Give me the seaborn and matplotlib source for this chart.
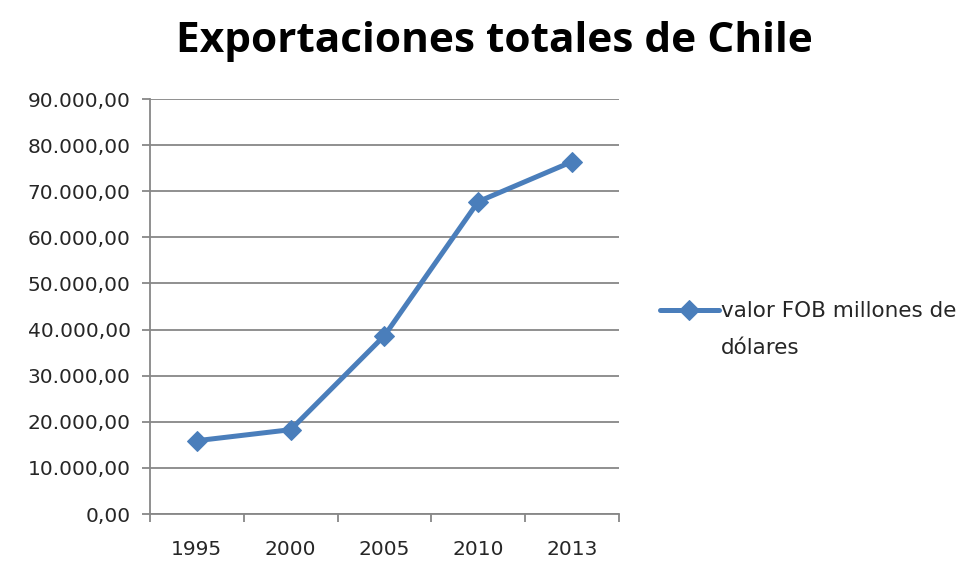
import matplotlib
matplotlib.use("Agg")
import matplotlib.pyplot as plt
from matplotlib.ticker import FuncFormatter, FixedLocator
import seaborn as sns
import pandas as pd
import numpy as np

years = ["1995", "2000", "2005", "2010", "2013"]
valor_fob = [15900, 18290, 38680, 67750, 76420]
serie_l1 = "valor FOB millones de"
serie_l2 = "dólares"
titulo = "Exportaciones totales de Chile"

df = pd.DataFrame({"anio": years, "valor": valor_fob})

sns.set_theme(style="white")
plt.rcParams["font.family"] = ["DejaVu Sans"]

fig = plt.figure(figsize=(9.7, 5.62), dpi=100)
ax = fig.add_axes([0.1546, 0.0854, 0.4835, 0.7384])

blue = "#4a7ebb"
grid_c = "#878787"
text_c = "#262626"

sns.lineplot(data=df, x="anio", y="valor", ax=ax, color=blue, linewidth=3.6,
             marker="D", markersize=10.5, markeredgecolor=blue, label=serie_l1,
             sort=False)

ax.set_xlim(-0.5, len(years) - 0.5)
ax.set_ylim(0, 90000)
ax.set_yticks(np.arange(0, 90001, 10000))
ax.yaxis.grid(True, color=grid_c, linewidth=1.3)
ax.set_axisbelow(True)


def fmt(v, pos):
    s = f"{v:,.2f}"
    return s.replace(",", "X").replace(".", ",").replace("X", ".")


ax.yaxis.set_major_formatter(FuncFormatter(fmt))
ax.xaxis.set_minor_locator(FixedLocator(np.arange(-0.5, len(years), 1.0)))
ax.tick_params(axis="x", which="major", length=0, pad=19, labelsize=14.5, labelcolor=text_c)
ax.tick_params(axis="x", which="minor", length=6, width=1.3, color=grid_c, direction="out", bottom=True)
ax.tick_params(axis="y", length=6, width=1.3, color=grid_c, direction="out", left=True,
               labelsize=14.5, labelcolor=text_c, pad=8)

for s in ["top", "right"]:
    ax.spines[s].set_visible(False)
ax.spines["left"].set_color(grid_c)
ax.spines["left"].set_linewidth(1.3)
ax.spines["bottom"].set_color(grid_c)
ax.spines["bottom"].set_linewidth(1.3)
ax.set_xlabel("")
ax.set_ylabel("")

fig.text(0.51, 0.927, titulo, ha="center", va="center", fontsize=30.5,
         fontweight="bold", color="black", family=["Open Sans"])

leg = ax.legend(loc="center left", bbox_to_anchor=(1.07, 0.488), frameon=False,
                fontsize=15.5, handlelength=2.7, handletextpad=0.1,
                labelcolor=text_c, borderaxespad=0)

# second line of the series label, aligned under the first one
fig.canvas.draw()
bb = leg.get_texts()[0].get_window_extent()
fig.text(bb.x0, bb.y0 - 37, serie_l2, transform=None, fontsize=15.5,
         color=text_c, ha="left", va="bottom")

fig.savefig("out.png", dpi=100, facecolor="white")
